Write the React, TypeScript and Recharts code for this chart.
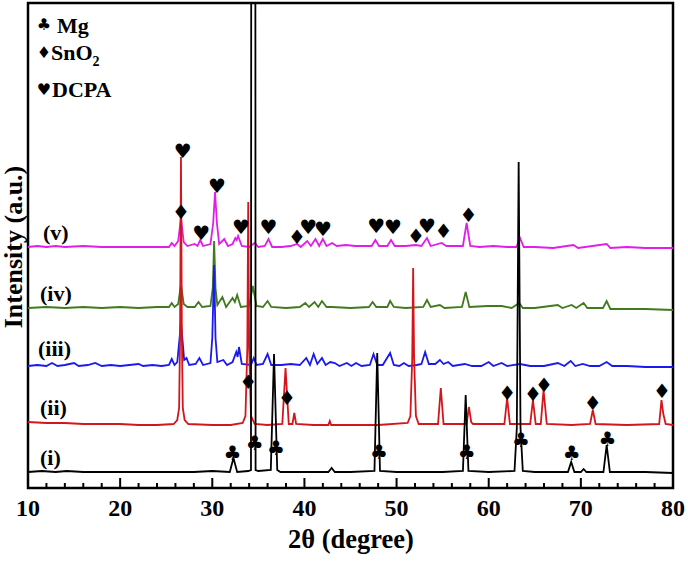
import { ComposedChart, Line, Scatter, XAxis, YAxis, ReferenceArea } from "recharts";

// intensities are in plot units (0 = bottom frame, 485 = top frame), traces already offset
const traceI: [number, number][] = [
  [10, 16], [11.5, 17], [13, 16], [14.2, 17], [16, 16], [18, 16], [20, 16], [22, 16], [24, 16], [26, 16],
  [28, 16], [30, 17], [31.9, 16], [32.3, 30], [32.7, 16], [33.9, 17], [34.2, 18], [34.45, 5000], [34.7, 18],
  [35.0, 17], [36.35, 18], [36.7, 134], [37.05, 18], [37.4, 16], [40, 16], [42.6, 16], [42.95, 20], [43.3, 16],
  [45, 16], [47.6, 17], [47.9, 135], [48.2, 17], [50, 16], [52, 16], [55, 16], [57.2, 17], [57.5, 93], [57.8, 17],
  [60, 16], [62.8, 17], [63.05, 60], [63.25, 326], [63.45, 60], [63.7, 17], [65, 16], [67, 16], [68.6, 16],
  [68.95, 26], [69.3, 16], [70.0, 16], [70.3, 19], [70.6, 16], [72.45, 16], [72.8, 43], [73.15, 16], [75, 16],
  [77, 16], [80, 15],
];

const traceII: [number, number][] = [
  [10, 66], [12, 65], [14, 65], [16, 64], [18, 64], [20, 64], [22, 63], [24, 63], [25.8, 64], [26.2, 68],
  [26.4, 80], [26.5, 150], [26.6, 331], [26.7, 150], [26.8, 80], [27.0, 68], [27.4, 64], [30, 63], [32, 63],
  [33.3, 65], [33.6, 72], [33.8, 140], [33.9, 286], [34.0, 140], [34.2, 72], [34.6, 64], [36, 63], [37.6, 64],
  [37.95, 120], [38.3, 64], [38.7, 64], [38.9, 75], [39.1, 64], [41, 63], [42.6, 63], [42.75, 67], [42.9, 63],
  [45, 63], [48, 63], [51.2, 65], [51.5, 72], [51.7, 130], [51.8, 220], [51.9, 130], [52.1, 72], [52.4, 64],
  [54.5, 64], [54.8, 100], [55.1, 64], [57.6, 64], [57.85, 81], [58.1, 66], [58.3, 64], [61.7, 64], [62.0, 90],
  [62.3, 64], [64.5, 64], [64.8, 88], [65.1, 64], [65.65, 64], [65.95, 98], [66.3, 64], [69, 63], [71.0, 64],
  [71.3, 78], [71.6, 64], [75, 63], [78.5, 64], [78.75, 88], [78.95, 74], [79.2, 64], [80, 63],
];

const traceIII: [number, number][] = [
  [10, 122], [11, 123], [12, 122], [12.6, 125], [13.2, 122], [14, 123], [15, 125], [15.5, 122], [16.5, 123],
  [17.3, 125], [18, 122], [19, 123], [20, 122], [21, 123], [22, 124], [22.5, 122], [23.5, 123], [24.5, 122],
  [25.3, 123], [25.6, 129], [25.9, 123], [26.2, 126], [26.45, 150], [26.6, 166], [26.75, 150], [26.95, 128],
  [27.2, 130], [27.5, 123], [28.2, 124], [28.6, 130], [29.0, 123], [29.8, 125], [30.0, 150], [30.2, 223],
  [30.35, 150], [30.55, 126], [31.2, 128], [31.6, 123], [32.2, 126], [32.6, 136], [32.75, 131], [32.9, 141],
  [33.2, 124], [34.2, 123], [34.5, 130], [34.8, 123], [35.5, 124], [36.0, 134], [36.4, 123], [37.5, 123],
  [38.5, 124], [39.5, 123], [40.2, 130], [40.6, 123], [41.0, 134], [41.4, 124], [41.9, 130], [42.3, 123],
  [42.8, 126], [43.3, 125], [43.8, 122], [44.6, 125], [45.1, 122], [45.6, 125], [46.2, 122], [47.1, 123],
  [47.5, 134], [47.9, 123], [48.5, 123], [49.3, 135], [49.7, 123], [50.3, 122], [50.8, 125], [51.3, 122],
  [52.2, 123], [52.7, 124], [53.1, 136], [53.5, 124], [54.2, 124], [54.7, 128], [55.1, 124], [55.6, 126],
  [56.1, 122], [57.4, 124], [58.2, 122], [59.2, 122], [60.0, 126], [60.5, 122], [61.4, 125], [62, 122],
  [63.4, 124], [64.5, 122], [66, 122], [67.5, 125], [68.2, 122], [68.9, 127], [69.4, 122], [70.2, 124],
  [71, 122], [72.0, 122], [72.8, 126], [73.4, 122], [75, 122], [77, 121], [80, 121],
];

const traceIV: [number, number][] = [
  [10, 180], [12, 181], [14, 180], [16, 181], [18, 180], [20, 181], [22, 180], [24, 181], [25.3, 181],
  [25.6, 185], [25.9, 181], [26.3, 184], [26.6, 204], [26.9, 184], [27.3, 181], [28.1, 181], [28.5, 186],
  [28.9, 181], [29.8, 182], [30.05, 200], [30.2, 247], [30.35, 200], [30.55, 183], [31.1, 191], [31.5, 181],
  [32.2, 190], [32.45, 186], [32.7, 193], [33.1, 181], [34.0, 182], [34.4, 202], [34.8, 182], [35.5, 181],
  [36.0, 187], [36.4, 181], [38, 180], [39.5, 181], [40.1, 185], [40.5, 181], [41.1, 186], [41.5, 181],
  [41.9, 187], [42.4, 181], [43, 181], [45, 180], [47.0, 181], [47.4, 186], [47.8, 181], [49.0, 181],
  [49.3, 187], [49.7, 181], [51, 180], [52.9, 181], [53.3, 188], [53.7, 181], [54.7, 183], [55.2, 180],
  [57.1, 181], [57.5, 196], [57.9, 181], [59.9, 182], [61.4, 182], [62.5, 180], [63.3, 185], [63.7, 180],
  [65, 180], [67.5, 183], [68, 180], [69.0, 183], [69.5, 180], [70.3, 185], [70.7, 180], [72.4, 180],
  [72.8, 187], [73.2, 179], [75, 179], [77, 179], [80, 178],
];

const traceV: [number, number][] = [
  [10, 241], [11, 242], [12, 241], [13, 242], [14, 241], [16, 242], [18, 241], [20, 241], [22, 241], [24, 241],
  [25.3, 241], [25.6, 245], [25.9, 242], [26.3, 247], [26.6, 270], [26.9, 246], [27.3, 242], [28.1, 244],
  [28.4, 242], [28.7, 248], [29.0, 242], [29.8, 244], [30.1, 265], [30.3, 296], [30.5, 265], [30.75, 244],
  [31.3, 249], [31.7, 242], [32.2, 244], [32.5, 250], [32.65, 248], [32.8, 252], [33.2, 242], [34.0, 241],
  [34.6, 245], [35.0, 241], [35.7, 242], [36.1, 249], [36.5, 241], [37.5, 241], [38.5, 242], [39.2, 244],
  [39.6, 241], [40.3, 247], [40.7, 242], [41.2, 249], [41.6, 242], [42.0, 249], [42.4, 242], [43.0, 245],
  [43.5, 242], [44.5, 243], [45.5, 242], [47.3, 242], [47.7, 248], [48.1, 242], [49.0, 242], [49.4, 248],
  [49.8, 242], [51, 242], [52.1, 243], [52.7, 242], [53.3, 250], [53.7, 242], [54.9, 245], [55.4, 242],
  [57.2, 242], [57.6, 265], [58.0, 242], [59, 241], [60.5, 242], [62, 241], [63.0, 241], [63.4, 250],
  [63.8, 241], [65, 241], [67, 240], [69.2, 243], [69.7, 240], [72.8, 244], [73.2, 240], [75, 241], [77, 240],
  [80, 240],
];

// phase markers
const mgMarks: [number, number][] = [
  [32.2, 35], [34.6, 45], [36.9, 40], [48.1, 36], [57.6, 36], [63.5, 48], [69.0, 35], [72.9, 49],
];
const sno2Marks: [number, number][] = [
  [26.6, 276], [33.9, 106], [38.1, 90], [39.2, 251], [52.1, 252], [55.1, 257], [57.8, 273],
  [62.0, 95], [64.8, 94], [66.0, 103], [71.3, 85], [78.8, 97],
];
const dcpaMarks: [number, number][] = [
  [26.8, 337], [30.5, 302], [28.8, 255], [33.1, 261], [36.1, 261], [40.4, 261], [42.0, 259],
  [47.8, 262], [49.6, 261], [53.3, 262],
];

const xTicks = [10, 12, 14, 16, 18, 20, 22, 24, 26, 28, 30, 32, 34, 36, 38, 40, 42, 44, 46, 48, 50, 52, 54,
  56, 58, 60, 62, 64, 66, 68, 70, 72, 74, 76, 78, 80];

const SERIF = "'Liberation Serif', 'Times New Roman', serif";
const SYMBOL_FONT = "'DejaVu Sans', sans-serif";

const toPoints = (rows: [number, number][]) => rows.map(([x, y]) => ({ x, y }));

const markShape = (glyph: string) => (props: any) => (
  <text
    x={props.cx}
    y={props.cy}
    textAnchor="middle"
    dominantBaseline="central"
    fontFamily={SYMBOL_FONT}
    fontSize={20}
    fill="#000"
  >
    {glyph}
  </text>
);

const XTick = (props: any) => {
  const { x, y, payload } = props;
  const major = payload.value % 10 === 0;
  return (
    <g>
      <line x1={x} x2={x} y1={y} y2={y - (major ? 10 : 5)} stroke="#000" strokeWidth={2} />
      {major && (
        <text x={x} y={y + 28} textAnchor="middle" fontFamily={SERIF} fontWeight="bold" fontSize={24} fill="#000">
          {payload.value}
        </text>
      )}
    </g>
  );
};

const traceLabels = [
  { text: "(v)", x: 43, y: 240 },
  { text: "(iv)", x: 40, y: 301 },
  { text: "(iii)", x: 38, y: 356 },
  { text: "(ii)", x: 40, y: 415 },
  { text: "(i)", x: 40, y: 465 },
];

export default function App() {
  return (
    <div style={{ position: "absolute", left: 0, top: 0, width: 688, height: 562, background: "#fff" }}>
      <ComposedChart width={688} height={562} margin={{ top: 3, right: 15, bottom: 14, left: 28 }}>
        <XAxis
          dataKey="x"
          type="number"
          domain={[10, 80]}
          ticks={xTicks}
          interval={0}
          allowDataOverflow
          axisLine={false}
          tickLine={false}
          tickSize={0}
          tickMargin={0}
          height={60}
          tick={<XTick />}
        />
        <YAxis hide type="number" domain={[0, 485]} allowDataOverflow />
        <Line data={toPoints(traceV)} dataKey="y" type="linear" stroke="#e01ee8" strokeWidth={1.8} dot={false} isAnimationActive={false} />
        <Line data={toPoints(traceIV)} dataKey="y" type="linear" stroke="#3f7a1c" strokeWidth={1.8} dot={false} isAnimationActive={false} />
        <Line data={toPoints(traceIII)} dataKey="y" type="linear" stroke="#1a1aef" strokeWidth={1.8} dot={false} isAnimationActive={false} />
        <Line data={toPoints(traceII)} dataKey="y" type="linear" stroke="#d4161c" strokeWidth={1.8} dot={false} isAnimationActive={false} />
        <Line data={toPoints(traceI)} dataKey="y" type="linear" stroke="#000" strokeWidth={1.8} dot={false} isAnimationActive={false} />
        <Scatter data={toPoints(mgMarks)} dataKey="y" shape={markShape("♣")} isAnimationActive={false} />
        <Scatter data={toPoints(sno2Marks)} dataKey="y" shape={markShape("♦")} isAnimationActive={false} />
        <Scatter data={toPoints(dcpaMarks)} dataKey="y" shape={markShape("♥")} isAnimationActive={false} />
        <ReferenceArea x1={10} x2={80} y1={0} y2={485} fill="none" stroke="#000" strokeWidth={2.5} ifOverflow="visible" />
      </ComposedChart>
      <svg width={688} height={562} style={{ position: "absolute", left: 0, top: 0, pointerEvents: "none" }}>
        <g fontFamily={SERIF} fontWeight="bold" fill="#000">
          <text x={44} y={24} textAnchor="middle" dominantBaseline="central" fontFamily={SYMBOL_FONT} fontSize={16}>♣</text>
          <text x={57} y={33} fontSize={22}>Mg</text>
          <text x={44} y={52} textAnchor="middle" dominantBaseline="central" fontFamily={SYMBOL_FONT} fontSize={16}>♦</text>
          <text x={51} y={60} fontSize={22}>
            SnO<tspan fontSize={14} dy={6}>2</tspan>
          </text>
          <text x={44} y={89} textAnchor="middle" dominantBaseline="central" fontFamily={SYMBOL_FONT} fontSize={16}>♥</text>
          <text x={52} y={97} fontSize={22}>DCPA</text>
          {traceLabels.map((l) => (
            <text key={l.text} x={l.x} y={l.y} fontSize={22}>
              {l.text}
            </text>
          ))}
          <text x={351} y={548} textAnchor="middle" fontSize={26.5}>
            2θ (degree)
          </text>
          <text x={22} y={247} textAnchor="middle" fontSize={26} transform="rotate(-90 22 247)">
            Intensity (a.u.)
          </text>
        </g>
      </svg>
    </div>
  );
}
